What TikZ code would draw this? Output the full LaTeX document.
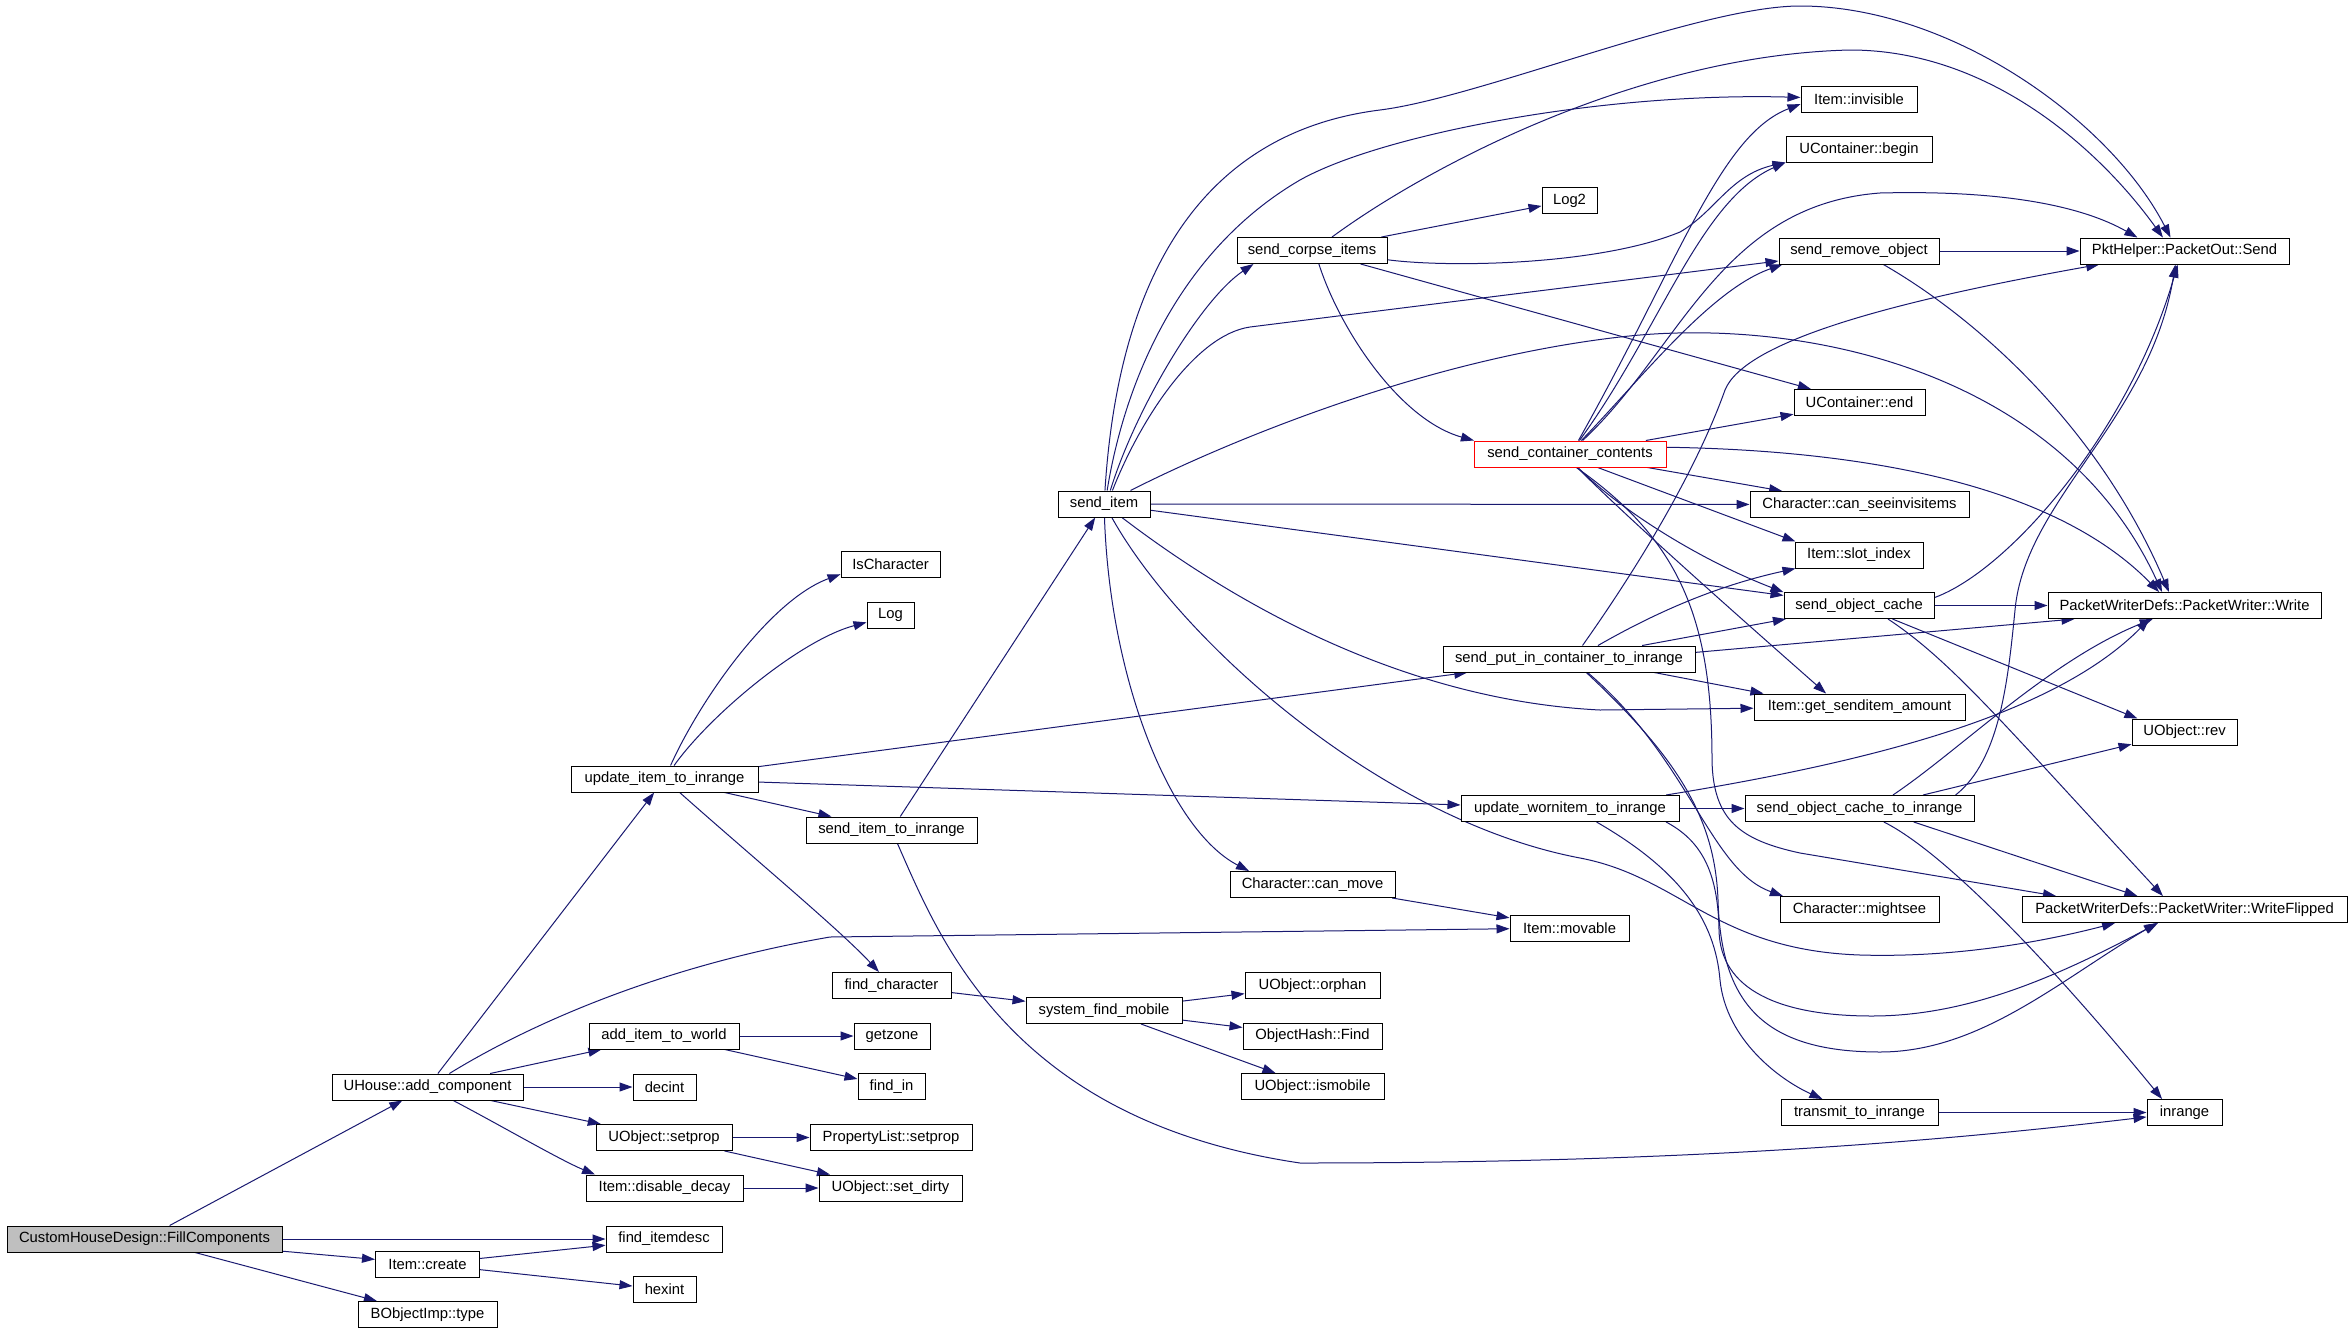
\documentclass[tikz,border=0pt]{standalone}
\usepackage{fontspec}
\setmainfont{Liberation Sans}
\usetikzlibrary{arrows.meta}
\definecolor{edgec}{RGB}{25,25,112}
\definecolor{rootfill}{RGB}{191,191,191}
\newcommand\nodefont{\fontsize{14.8}{17}\selectfont}
\pgfdeclarelayer{bgfill}
\pgfdeclarelayer{edges}
\pgfsetlayers{bgfill,edges,main}
\tikzset{
  box/.style={draw=black, line width=1pt, fill=white, inner sep=0pt, font=\nodefont, text=black, minimum height=26pt},
  conn/.style={draw=edgec, line width=1pt, -{Triangle[length=13pt,width=9pt]}},
}
\begin{document}
\begin{tikzpicture}[x=1pt,y=-1pt]
\begin{pgfonlayer}{bgfill}
\fill[white] (0,0) rectangle (2352,1333);
\end{pgfonlayer}
\useasboundingbox (0,0) rectangle (2352,1333);

% ---------- nodes ----------
\node[box, minimum width=275pt, fill=rootfill] (fillc) at (144.5,1239) {CustomHouseDesign::FillComponents};
\node[box, minimum width=191pt] (addc) at (427.5,1087) {UHouse::add\_component};
\node[box, minimum width=187pt] (upd) at (664.5,779) {update\_item\_to\_inrange};
\node[box, minimum width=150pt] (additem) at (664,1036) {add\_item\_to\_world};
\node[box, minimum width=63pt] (decint) at (664.5,1087) {decint};
\node[box, minimum width=136pt] (setprop) at (664,1137.5) {UObject::setprop};
\node[box, minimum width=157pt] (decay) at (664.5,1188) {Item::disable\_decay};
\node[box, minimum width=116pt] (itemdesc) at (664,1239) {find\_itemdesc};
\node[box, minimum width=104pt] (create) at (427.5,1264) {Item::create};
\node[box, minimum width=63pt] (hexint) at (664.5,1289.5) {hexint};
\node[box, minimum width=139pt] (bobj) at (427.5,1314.5) {BObjectImp::type};
\node[box, minimum width=99pt] (ischar) at (890.5,564.5) {IsCharacter};
\node[box, minimum width=47pt] (log) at (890.5,615) {Log};
\node[box, minimum width=171pt] (senditr) at (891.5,830) {send\_item\_to\_inrange};
\node[box, minimum width=119pt] (findchar) at (891.5,985.5) {find\_character};
\node[box, minimum width=76pt] (getzone) at (892,1036) {getzone};
\node[box, minimum width=67pt] (findin) at (891.5,1086.5) {find\_in};
\node[box, minimum width=162pt] (plsetprop) at (891,1137.5) {PropertyList::setprop};
\node[box, minimum width=143pt] (setdirty) at (890.5,1188) {UObject::set\_dirty};
\node[box, minimum width=92pt] (senditem) at (1104,504) {send\_item};
\node[box, minimum width=156pt] (sysfind) at (1104,1010.5) {system\_find\_mobile};
\node[box, minimum width=150pt] (corpse) at (1312,250.5) {send\_corpse\_items};
\node[box, minimum width=165pt] (canmove) at (1312.5,884.5) {Character::can\_move};
\node[box, minimum width=135pt] (orphan) at (1312.5,985.5) {UObject::orphan};
\node[box, minimum width=139pt] (ohfind) at (1312.5,1036) {ObjectHash::Find};
\node[box, minimum width=143pt] (ismobile) at (1312.5,1086.5) {UObject::ismobile};
\node[box, minimum width=55pt] (log2) at (1569.5,200.5) {Log2};
\node[box, minimum width=192pt, draw=red] (scc) at (1570,454) {send\_container\_contents};
\node[box, minimum width=252pt] (sendput) at (1569,659) {send\_put\_in\_container\_to\_inrange};
\node[box, minimum width=218pt] (worn) at (1570,808.5) {update\_wornitem\_to\_inrange};
\node[box, minimum width=119pt] (movable) at (1569.5,928) {Item::movable};
\node[box, minimum width=116pt] (invis) at (1859,99) {Item::invisible};
\node[box, minimum width=146pt] (ubegin) at (1859,149.5) {UContainer::begin};
\node[box, minimum width=160pt] (remove) at (1859,251) {send\_remove\_object};
\node[box, minimum width=131pt] (uend) at (1859.5,402.5) {UContainer::end};
\node[box, minimum width=219pt] (cansee) at (1859.5,504.5) {Character::can\_seeinvisitems};
\node[box, minimum width=128pt] (slot) at (1859,555) {Item::slot\_index};
\node[box, minimum width=150pt] (soc) at (1859,605.5) {send\_object\_cache};
\node[box, minimum width=211pt] (gsa) at (1859.5,707) {Item::get\_senditem\_amount};
\node[box, minimum width=229pt] (soci) at (1859.5,808.5) {send\_object\_cache\_to\_inrange};
\node[box, minimum width=159pt] (mightsee) at (1859.5,909.5) {Character::mightsee};
\node[box, minimum width=157pt] (transmit) at (1859.5,1112.5) {transmit\_to\_inrange};
\node[box, minimum width=209pt] (send) at (2184.5,251) {PktHelper::PacketOut::Send};
\node[box, minimum width=273pt] (write) at (2184.5,605.5) {PacketWriterDefs::PacketWriter::Write};
\node[box, minimum width=105pt] (rev) at (2184.5,732) {UObject::rev};
\node[box, minimum width=325pt] (wflip) at (2184.5,909.5) {PacketWriterDefs::PacketWriter::WriteFlipped};
\node[box, minimum width=75pt] (inrange) at (2184.5,1112.5) {inrange};

% ---------- edges ----------
\begin{pgfonlayer}{edges}
% FillComponents
\draw[conn] (fillc) -- (addc);
\draw[conn] (fillc) -- (itemdesc);
\draw[conn] (fillc) -- (create);
\draw[conn] (fillc) -- (bobj);
\draw[conn] (create) -- (itemdesc);
\draw[conn] (create) -- (hexint);
% UHouse::add_component
\draw[conn] (addc) -- (upd);
\draw[conn] (addc) .. controls (520,1030) and (650,968) .. (830,937) -- (movable);
\draw[conn] (addc) -- (additem);
\draw[conn] (addc) -- (decint);
\draw[conn] (addc) -- (setprop);
\draw[conn] (addc) .. controls (500,1125) and (560,1160) .. (decay.169);
\draw[conn] (additem) -- (getzone);
\draw[conn] (additem) -- (findin);
\draw[conn] (setprop) -- (plsetprop);
\draw[conn] (setprop) -- (setdirty);
\draw[conn] (decay) -- (setdirty);
% update_item_to_inrange
\draw[conn] (upd) .. controls (700,700) and (770,600) .. (ischar.191);
\draw[conn] (upd) .. controls (710,715) and (800,640) .. (log.197);
\draw[conn] (upd) -- (sendput);
\draw[conn] (upd) -- (worn);
\draw[conn] (upd) -- (senditr);
\draw[conn] (upd) .. controls (750,855) and (840,930) .. (findchar);
% send_item_to_inrange
\draw[conn] (senditr) -- (senditem);
\draw[conn] (senditr) .. controls (940,940) and (1010,1120) .. (1300,1163) .. controls (1700,1163) and (1950,1140) .. (inrange);
% find_character etc.
\draw[conn] (findchar) -- (sysfind);
\draw[conn] (sysfind) -- (orphan);
\draw[conn] (sysfind) -- (ohfind);
\draw[conn] (sysfind) -- (ismobile);
\draw[conn] (canmove) -- (movable);
% send_item
\draw[conn] (senditem.86) .. controls (1120,250) and (1220,130) .. (1380,110) .. controls (1480,97.5) and (1700,6) .. (1800,6) .. controls (1950,6) and (2110,120) .. (send.136);
\draw[conn] (senditem.77) .. controls (1125,380) and (1180,250) .. (1300,180) .. controls (1380,135) and (1600,92) .. (invis);
\draw[conn] (senditem.65) .. controls (1135,410) and (1200,300) .. (corpse.193);
\draw[conn] (senditem.58) .. controls (1140,420) and (1195,335) .. (1250,327) -- (remove);
\draw[conn] (senditem.27) .. controls (1220,445) and (1420,360) .. (1620,337) .. controls (1800,316) and (2060,370) .. (write.149);
\draw[conn] (senditem) -- (cansee);
\draw[conn] (senditem) -- (soc);
\draw[conn] (senditem.-37) .. controls (1230,600) and (1400,700) .. (1600,710) -- (gsa);
\draw[conn] (senditem.-88) .. controls (1110,680) and (1170,830) .. (canmove.168);
\draw[conn] (senditem.-60) .. controls (1180,640) and (1380,820) .. (1580,858) .. controls (1680,877) and (1715,950) .. (1860,955) .. controls (1960,958) and (2050,940) .. (wflip.191);
% send_corpse_items
\draw[conn] (corpse) -- (log2);
\draw[conn] (corpse.34) .. controls (1430,165) and (1640,55) .. (1850,50) .. controls (1990,50) and (2100,150) .. (send.148);
\draw[conn] (corpse.-7) .. controls (1450,268) and (1600,265) .. (1680,232) .. controls (1715,212) and (1730,175) .. (ubegin.190);
\draw[conn] (corpse) -- (uend);
\draw[conn] (corpse.-63) .. controls (1340,330) and (1400,420) .. (scc.172);
% send_container_contents
\draw[conn] (scc.58) .. controls (1680,260) and (1720,135) .. (invis.185);
\draw[conn] (scc.55) .. controls (1660,330) and (1700,200) .. (ubegin.190);
\draw[conn] (scc.50) .. controls (1640,380) and (1710,290) .. (remove.190);
\draw[conn] (scc.47) .. controls (1680,350) and (1720,205) .. (1880,193) .. controls (2000,190) and (2080,205) .. (send.164);
\draw[conn] (scc) -- (uend);
\draw[conn] (scc.4) .. controls (1850,450) and (2050,480) .. (write.152);
\draw[conn] (scc) -- (cansee);
\draw[conn] (scc.-26) -- (slot.168);
\draw[conn] (scc.-60) .. controls (1620,510) and (1700,560) .. (soc.170);
\draw[conn] (scc.-62) .. controls (1630,520) and (1720,600) .. (gsa.158);
\draw[conn] (scc.-65) .. controls (1680,540) and (1712,620) .. (1712,760) .. controls (1713,820) and (1740,840) .. (1800,853) -- (wflip.174);
% send_put_in_container_to_inrange
\draw[conn] (sendput.45) .. controls (1650,550) and (1700,460) .. (1725,390) .. controls (1745,340) and (1900,300) .. (send.189);
\draw[conn] (sendput.25) .. controls (1660,610) and (1720,585) .. (slot.192);
\draw[conn] (sendput) -- (soc);
\draw[conn] (sendput.3) -- (write.187);
\draw[conn] (sendput.-9) -- (gsa.172);
\draw[conn] (sendput.-36) .. controls (1690,760) and (1710,870) .. (mightsee.170);
\draw[conn] (sendput.-38) .. controls (1680,760) and (1715,820) .. (1718,900) .. controls (1721,1000) and (1760,1052) .. (1880,1052) .. controls (1980,1052) and (2060,980) .. (wflip.206);
% update_wornitem_to_inrange
\draw[conn] (worn) -- (soci);
\draw[conn] (worn.8) .. controls (1850,765) and (2050,720) .. (write.201);
\draw[conn] (worn.-27) .. controls (1680,870) and (1715,920) .. (1720,980) .. controls (1726,1040) and (1780,1080) .. (transmit.160);
\draw[conn] (worn.-8) .. controls (1700,840) and (1718,870) .. (1719,930) .. controls (1720,990) and (1780,1016) .. (1872,1016) .. controls (1970,1016) and (2060,975) .. (wflip.207);
% send_object_cache_to_inrange
\draw[conn] (soci.12) -- (rev.193);
\draw[conn] (soci.22) .. controls (1960,750) and (2050,660) .. (write.203);
\draw[conn] (soci.8) .. controls (2000,760) and (2008,680) .. (2015,610) .. controls (2025,500) and (2150,420) .. (send.236);
\draw[conn] (soci.-14) -- (wflip.164);
\draw[conn] (soci.-29) .. controls (1940,850) and (2040,950) .. (inrange.149);
% send_object_cache
\draw[conn] (soc) -- (write);
\draw[conn] (soc.6) .. controls (2010,570) and (2130,430) .. (send.243);
\draw[conn] (soc.-22) -- (rev.164);
\draw[conn] (soc.-25) .. controls (1950,660) and (2000,720) .. (wflip.148);
% send_remove_object
\draw[conn] (remove) -- (send);
\draw[conn] (remove.-29) .. controls (1980,320) and (2100,430) .. (write.139);
% transmit_to_inrange
\draw[conn] (transmit) -- (inrange);
\end{pgfonlayer}
\end{tikzpicture}
\end{document}
